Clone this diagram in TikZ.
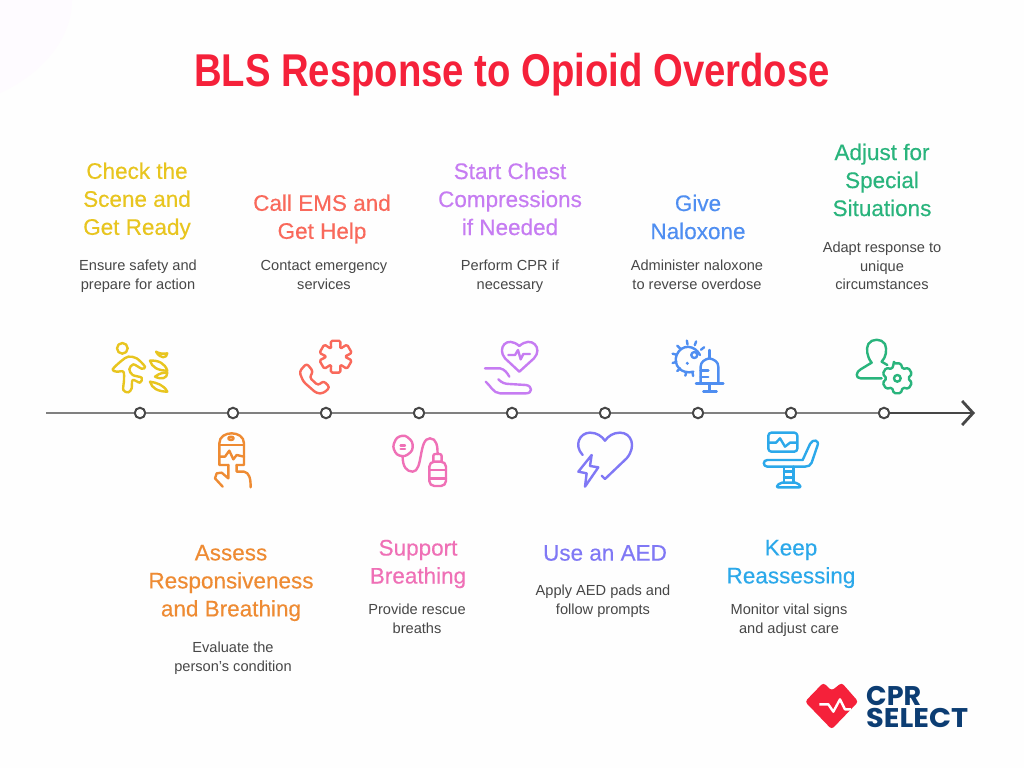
\documentclass[tikz,border=0pt]{standalone}
\usepackage{fontspec}
\setmainfont{Liberation Sans}
\newfontfamily\headfont{Liberation Sans}[FakeBold=0.35]
\newfontfamily\titlefont{Liberation Sans}[UprightFont=* Bold, FakeStretch=0.832]
\newfontfamily\logofont{Poppins}[UprightFont=* Bold]
\newfontfamily\logowide{Poppins}[UprightFont=* Bold, FakeStretch=1.07]
\usetikzlibrary{arrows.meta, calc}
\definecolor{cyellow}{HTML}{E8C51F}
\definecolor{corange}{HTML}{EE8B33}
\definecolor{cred}{HTML}{F9695B}
\definecolor{cpink}{HTML}{EF70B6}
\definecolor{cpurple}{HTML}{C67CF2}
\definecolor{cviolet}{HTML}{8078F5}
\definecolor{cblue}{HTML}{4F8EF1}
\definecolor{csky}{HTML}{2BA8EA}
\definecolor{cgreen}{HTML}{29B47C}
\definecolor{cbrand}{HTML}{F5213A}
\definecolor{cnavy}{HTML}{0C3D73}
\definecolor{cpage}{HTML}{FEFEFE}
\definecolor{ccorner}{HTML}{FEFBFF}
\tikzset{
	heading/.style={align=center, inner sep=0pt, font=\headfont\fontsize{22.5}{28}\selectfont},
	descr/.style={align=center, inner sep=0pt, text=black!72, font=\fontsize{14.6}{18.6}\selectfont},
	dotmark/.style={circle, draw=black!72, fill=white, line width=2pt, minimum size=10.5pt, inner sep=0pt},
	axisline/.style={draw=black!50, line width=2.8pt},
	icon/.style={line width=2.4pt, line cap=round, line join=round},
	zoomleft/.style={shift={(90,330)}, x=0.3333pt, y=-0.3333pt},
	zoommid/.style={shift={(450,330)}, x=0.3333pt, y=-0.3333pt},
	zoomright/.style={shift={(740,330)}, x=0.3333pt, y=-0.3333pt},
	zoomlogo/.style={shift={(790,670)}, x=0.3333pt, y=-0.3333pt}
}
\begin{document}
\begin{tikzpicture}[x=1pt, y=-1pt]
	\useasboundingbox (0, 0) rectangle (1024, 768);
	\fill[cpage] (0, 0) rectangle (1024, 768);
	\fill[ccorner] (0, 0) -- (72, 0) .. controls (72, 40) and (40, 75) .. (0, 93) -- cycle;
	\node[inner sep=0pt, anchor=base, text=cbrand, font=\titlefont\fontsize{46}{50}\selectfont] (title) at (512, 86) {BLS Response to Opioid Overdose};

	\node[heading, text=cyellow] (head1) at (137, 201) {Check the\\Scene and\\Get Ready};
	\node[descr] (desc1) at (138, 276) {Ensure safety and\\prepare for action};
	\node[heading, text=corange] (head2) at (231, 583) {Assess\\Responsiveness\\and Breathing};
	\node[descr] (desc2) at (233, 658) {Evaluate the\\person's condition};
	\node[heading, text=cred] (head3) at (322, 219) {Call EMS and\\Get Help};
	\node[descr] (desc3) at (324, 275) {Contact emergency\\services};
	\node[heading, text=cpink] (head4) at (418, 564) {Support\\Breathing};
	\node[descr] (desc4) at (417, 619) {Provide rescue\\breaths};
	\node[heading, text=cpurple] (head5) at (510, 199) {Start Chest\\Compressions\\if Needed};
	\node[descr] (desc5) at (510, 276) {Perform CPR if\\necessary};
	\node[heading, text=cviolet] (head6) at (605, 553) {Use an AED};
	\node[descr] (desc6) at (603, 601) {Apply AED pads and\\follow prompts};
	\node[heading, text=cblue] (head7) at (698, 217) {Give\\Naloxone};
	\node[descr] (desc7) at (697, 275) {Administer naloxone\\to reverse overdose};
	\node[heading, text=csky] (head8) at (791, 564) {Keep\\Reassessing};
	\node[descr] (desc8) at (789, 620) {Monitor vital signs\\and adjust care};
	\node[heading, text=cgreen] (head9) at (882, 180) {Adjust for\\Special\\Situations};
	\node[descr] (desc9) at (882, 266) {Adapt response to\\unique\\circumstances};

	\coordinate (axisstart) at (46, 413);
	\coordinate (axistip) at (975, 413);
	\foreach \n/\x in {1/140, 2/233, 3/326, 4/419, 5/512, 6/605, 7/698, 8/791, 9/884}
		\node[dotmark] (dot\n) at (\x, 413) {};
	\draw[axisline] (axisstart) -- (dot1);
	\foreach \a/\b in {1/2, 2/3, 3/4, 4/5, 5/6, 6/7, 7/8, 8/9}
		\draw[axisline] (dot\a) -- (dot\b);
	\draw[line width=2.8pt, draw=black!72, -{Straight Barb[length=11pt, width=24pt]}] (dot9) -- (axistip);

	\begin{scope}[zoomleft, icon, draw=cyellow]
		\draw (97, 55) circle (16);
		\draw plot[smooth cycle, tension=0.55] coordinates {(68,118) (95,92) (115,80) (140,85) (165,110) (155,116) (130,103) (118,118) (128,135) (155,143) (150,158) (128,150) (125,175) (115,187) (100,180) (102,150) (100,125) (80,125)};
		\draw (180,92) .. controls (205,90) and (225,100) .. (232,122) .. controls (205,122) and (185,112) .. cycle;
		\draw (198,65) .. controls (210,72) and (220,72) .. (232,70) .. controls (230,85) and (212,88) .. cycle;
		\draw (195,140) .. controls (210,128) and (222,128) .. (232,128) .. controls (232,145) and (215,150) .. cycle;
		\draw (180,155) .. controls (200,158) and (222,165) .. (232,185) .. controls (205,185) and (185,175) .. cycle;
	\end{scope}

	\begin{scope}[zoomleft, icon, draw=corange]
		\draw (415,405) -- (388,405) -- (388,340) .. controls (388,300) and (462,300) .. (462,340) -- (462,405) -- (440,405);
		\draw (388,345) -- (462,345);
		\draw (423,325) ellipse (8 and 5);
		\draw (388,380) -- (405,380) -- (418,362) -- (430,388) -- (440,375) -- (462,380);
		\draw (398,470) -- (375,445) -- (380,430) -- (395,428) -- (415,445) -- (415,405);
		\draw (440,405) -- (440,425) -- (462,425) .. controls (478,428) and (482,445) .. (482,472);
	\end{scope}

	\begin{scope}[zoomleft, icon, draw=cred]
		\draw[rounded corners=1.5pt] ($(737,80)+(73:50)$) \foreach \a in {90, 150, 210, 270, 330, 30} { -- ($(737,80)+(\a-17:50)$) -- ($(737,80)+(\a+17:50)$) -- ($(737,80)+(\a+30:27)$) } -- cycle;
		\draw[rounded corners=3pt] (628,125) -- (650,100) -- (670,125) -- (658,142) -- (685,167) -- (700,152) -- (720,172) -- (700,190) -- (680,190) -- (640,155) -- cycle;
	\end{scope}

	\begin{scope}[zoomleft, icon, draw=cpink]
		\draw[rounded corners=3pt] (908,350) -- (920,322) -- (945,315) -- (968,335) -- (968,362) -- (945,380) -- (920,375) -- cycle;
		\draw (932,346) -- (945,346);
		\draw (932,357) -- (945,357);
		\draw (938,380) .. controls (938,410) and (950,425) .. (968,425) .. controls (1000,425) and (985,325) .. (1020,325) .. controls (1040,325) and (1043,350) .. (1043,372);
		\draw[rounded corners=2pt] (1030,395) -- (1030,372) -- (1055,372) -- (1055,395);
		\draw[rounded corners=5pt] (1018,395) rectangle (1068,468);
		\draw (1018,420) -- (1068,420);
		\draw (1018,445) -- (1068,445);
	\end{scope}

	\begin{scope}[zoommid, icon, draw=cpurple]
		\draw (208,125) -- (165,85) .. controls (140,55) and (170,15) .. (208,48) .. controls (245,15) and (280,55) .. (252,85) -- cycle;
		\draw (175,75) -- (195,75) -- (204,60) -- (212,88) -- (220,72) -- (240,72);
		\draw (105,115) -- (150,115) .. controls (165,118) and (172,130) .. (178,140);
		\draw (145,148) .. controls (155,158) and (165,162) .. (178,162) -- (228,165) .. controls (248,168) and (248,190) .. (228,190) -- (150,190) .. controls (130,190) and (120,165) .. (107,155);
	\end{scope}

	\begin{scope}[zoommid, icon, draw=cviolet]
		\draw (398,375) .. controls (370,345) and (390,308) .. (420,308) .. controls (440,308) and (455,318) .. (465,332) .. controls (475,318) and (490,308) .. (510,308) .. controls (545,308) and (560,350) .. (530,385) -- (465,447) -- (455,437);
		\draw (425,375) -- (385,425) -- (410,430) -- (405,470) -- (445,412) -- (420,408) -- cycle;
	\end{scope}

	\begin{scope}[zoommid, icon, draw=cblue]
		\draw (750,75) .. controls (735,45) and (695,40) .. (680,75) .. controls (668,105) and (695,135) .. (730,125);
		\foreach \a in {-70, -38, -100, -135, -165, 165, 135, 105, 80}
			\draw ($(720,85)+(\a:42)$) -- ($(720,85)+(\a:54)$);
		\draw (733,75) circle (9);
		\fill[cblue] (712,100) circle (5);
		\draw (778,60) -- (778,85);
		\draw (752,160) -- (752,110) .. controls (752,95) and (765,88) .. (778,85) .. controls (792,88) and (805,95) .. (805,110) -- (805,160);
		\draw (752,122) -- (775,122);
		\draw (752,141) -- (775,141);
		\draw (738,160) -- (820,160);
		\draw (778,160) -- (778,185);
		\draw (760,185) -- (800,185);
	\end{scope}

	\begin{scope}[zoomright, icon, draw=csky]
		\draw[rounded corners=3pt] (85,308) rectangle (172,365);
		\draw (88,338) -- (108,338) -- (120,325) -- (135,350) -- (150,338) -- (170,338);
		\draw (82,410) .. controls (68,410) and (68,390) .. (82,390) -- (188,390) -- (210,342) .. controls (218,325) and (240,330) .. (232,348) -- (215,398) .. controls (212,406) and (205,410) .. (195,410) -- cycle;
		\draw (132,410) -- (132,458);
		\draw (160,410) -- (160,458);
		\draw (132,425) -- (160,425);
		\draw (132,442) -- (160,442);
		\draw[rounded corners=2pt] (120,458) -- (172,458) -- (184,472) -- (108,472) -- cycle;
	\end{scope}

	\begin{scope}[zoomright, icon, draw=cgreen]
		\draw (425,145) -- (362,145) .. controls (345,145) and (348,125) .. (362,118) -- (395,98) .. controls (380,80) and (378,55) .. (385,42) .. controls (395,25) and (425,25) .. (435,42) .. controls (442,60) and (438,82) .. (425,95) -- (442,105);
		\draw[rounded corners=1.5pt] ($(472,145)+(-103:46)$) \foreach \a in {-90, -30, 30, 90, 150, 210} { -- ($(472,145)+(\a-13:46)$) -- ($(472,145)+(\a+13:46)$) -- ($(472,145)+(\a+30:32)$) } -- cycle;
		\draw (472,145) circle (10);
	\end{scope}

	\begin{scope}[zoomlogo]
		\fill[cbrand, rounded corners=3pt] (45,95) -- (100,38) -- (125,62) -- (155,38) -- (205,95) -- (125,178) -- cycle;
		\draw[white, line width=2.4pt, line join=round] (88,103) -- (115,103) -- (130,125) -- (150,88) -- (165,118) -- (183,118);
	\end{scope}
	\node[inner sep=0pt, anchor=base west, align=left, text=cnavy, font=\logofont\fontsize{27}{21.5}\selectfont] (logo) at (866, 727) {CPR\\\logowide SELECT};
\end{tikzpicture}
\end{document}
